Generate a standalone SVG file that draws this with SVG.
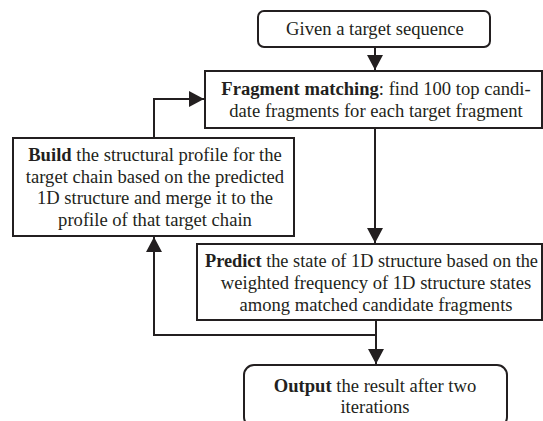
<svg xmlns="http://www.w3.org/2000/svg" width="543" height="421" viewBox="0 0 543 421">
  <defs>
    <marker id="arrow" viewBox="0 0 15 16" refX="15" refY="8" markerWidth="15" markerHeight="16" markerUnits="userSpaceOnUse" orient="auto">
      <path d="M0,0 L15,8 L0,16 Z" fill="#231f20"/>
    </marker>
    <style>
      .box { fill: #fff; stroke: #231f20; stroke-width: 2; }
      .link { fill: none; stroke: #231f20; stroke-width: 2; }
      text { font-family: "Liberation Serif", "Times New Roman", serif; font-size: 18.6px; fill: #231f20; text-anchor: middle; }
      .b { font-weight: bold; }
    </style>
  </defs>
  <rect width="543" height="421" fill="#fff"/>

  <g id="connectors">
    <path class="link" d="M375,47 V70" marker-end="url(#arrow)"/>
    <path class="link" d="M375,128 V243" marker-end="url(#arrow)"/>
    <path class="link" d="M376,320 V364" marker-end="url(#arrow)"/>
    <path class="link" d="M376,335 H154 V237" marker-end="url(#arrow)"/>
    <path class="link" d="M154,138 V99 H204" marker-end="url(#arrow)"/>
  </g>

  <g id="start">
    <rect class="box" x="258" y="11" width="232" height="36" rx="6"/>
    <text x="375" y="35">Given a target sequence</text>
  </g>

  <g id="fragment-matching">
    <rect class="box" x="205" y="71" width="337" height="57"/>
    <text x="376" y="95"><tspan class="b">Fragment matching</tspan>: find 100 top candi-</text>
    <text x="376" y="117">date fragments for each target fragment</text>
  </g>

  <g id="build-profile">
    <rect class="box" x="13" y="138" width="281" height="98"/>
    <text x="155" y="161"><tspan class="b">Build</tspan> the structural profile for the</text>
    <text x="155" y="183">target chain based on the predicted</text>
    <text x="155" y="204">1D structure and merge it to the</text>
    <text x="155" y="226">profile of that target chain</text>
  </g>

  <g id="predict">
    <rect class="box" x="197" y="244" width="345" height="76"/>
    <text x="205" y="267" style="text-anchor:start" textLength="333" lengthAdjust="spacingAndGlyphs"><tspan class="b">Predict</tspan> the state of 1D structure based on the</text>
    <text x="376" y="289">weighted frequency of 1D structure states</text>
    <text x="376" y="311">among matched candidate fragments</text>
  </g>

  <g id="output">
    <rect class="box" x="244" y="365" width="263" height="62" rx="10"/>
    <text x="375" y="392"><tspan class="b">Output</tspan> the result after two</text>
    <text x="375" y="413">iterations</text>
  </g>
</svg>
